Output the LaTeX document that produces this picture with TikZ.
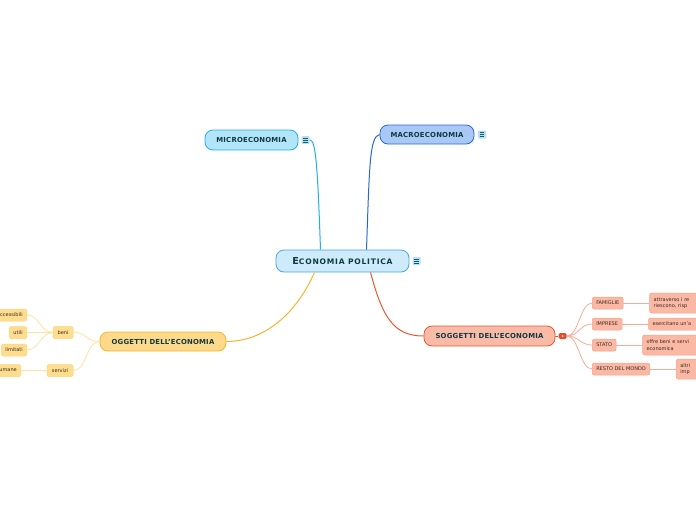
\documentclass[tikz,border=0pt]{standalone}
\usepackage{fontspec}
\setmainfont{DejaVu Sans}
\usetikzlibrary{positioning}
\definecolor{titolo}{HTML}{0E3A40}
\definecolor{testo}{HTML}{3A2A20}
\definecolor{centrofill}{HTML}{CDEBFB}
\definecolor{centrobd}{HTML}{4AA6DC}
\definecolor{microfill}{HTML}{B3E5FA}
\definecolor{microbd}{HTML}{22AEEB}
\definecolor{macrofill}{HTML}{A9C8F6}
\definecolor{macrobd}{HTML}{2868D2}
\definecolor{oggfill}{HTML}{FFD98A}
\definecolor{oggbd}{HTML}{F5B42C}
\definecolor{soggfill}{HTML}{F9BBA7}
\definecolor{soggbd}{HTML}{E8572F}
\definecolor{gialloch}{HTML}{FFDD8E}
\definecolor{giallobd}{HTML}{FFD27A}
\definecolor{gialloln}{HTML}{FFE3A0}
\definecolor{salmonech}{HTML}{FBB9A5}
\definecolor{salmonebd}{HTML}{F6A088}
\definecolor{salmoneln}{HTML}{F8AC95}
\definecolor{iconabg}{HTML}{B9DDF5}

\tikzset{
  base/.style={rounded corners=8pt,line width=0.8pt,inner sep=0pt,
    font=\bfseries\fontsize{6.9}{7}\selectfont\addfontfeatures{LetterSpace=3},
    text=titolo,minimum height=20pt},
  ramo/.style={line width=1pt},
  foglia/.style={rounded corners=2pt,line width=0.5pt,inner xsep=4pt,inner ysep=0pt,
    font=\fontsize{5}{6.5}\selectfont,text=testo,minimum height=12pt},
  giallo/.style={foglia,fill=gialloch,draw=giallobd},
  salmone/.style={foglia,fill=salmonech,draw=salmonebd},
  nota/.style={salmone,align=left,text width=60pt,anchor=west},
  icona/.style={fill=iconabg,rounded corners=1pt,minimum width=8pt,minimum height=8pt,
    inner sep=0pt,path picture={
      \foreach \k in {-1.8,0,1.8}
        \draw[titolo!80!cyan,line width=0.55pt]
          ([xshift=-2.2pt,yshift=\k pt]path picture bounding box.center) -- ++(4.4pt,0);}},
}

\begin{document}
\begin{tikzpicture}[x=1pt,y=-1pt]
  \useasboundingbox (0,0) rectangle (696,520);
  \clip (0,0) rectangle (696,520);

  % nodi principali
  \node[base,fill=centrofill,draw=centrobd,minimum width=133pt,minimum height=22pt,
    font=\bfseries\fontsize{7.6}{8}\selectfont\addfontfeatures{LetterSpace=10}]
    (eco) at (342.5,261) {{\fontsize{9.6}{9}\selectfont E}CONOMIA POLITICA};
  \node[icona,right=3pt of eco] (ecoi) {};
  \node[base,fill=microfill,draw=microbd,minimum width=93pt] (micro) at (251.5,140) {MICROECONOMIA};
  \node[icona,right=3pt of micro] (microi) {};
  \node[base,fill=macrofill,draw=macrobd,minimum width=94pt,minimum height=19pt]
    (macro) at (427,134.5) {MACROECONOMIA};
  \node[icona,right=3.5pt of macro] (macroi) {};
  \node[base,fill=oggfill,draw=oggbd,minimum width=126pt,minimum height=19pt]
    (ogg) at (163,341.5) {OGGETTI DELL'ECONOMIA};
  \node[base,fill=soggfill,draw=soggbd,minimum width=131pt] (sogg) at (489.5,336) {SOGGETTI DELL'ECONOMIA};
  \node[fill=soggbd!85!red,rounded corners=1.5pt,minimum width=8pt,minimum height=6pt,
    inner sep=0pt,right=3pt of sogg] (segno) {};
  \fill[white] (segno.center) circle (0.9pt);

  % rami principali
  \draw[ramo,microbd] ([xshift=-22pt]eco.north) .. controls +(-3,-85) and +(6,0) .. (microi.east);
  \draw[ramo,macrobd] ([xshift=24pt]eco.north) .. controls +(3,-85) and +(-10,2) .. (macro.west);
  \draw[ramo,oggbd] ([xshift=-28pt]eco.south) .. controls +(-20,45) and +(35,0) .. (ogg.east);
  \draw[ramo,soggbd] ([xshift=28pt]eco.south) .. controls +(12,45) and +(-30,0) .. (sogg.west);
  \draw[line width=0.8pt,soggbd] (sogg.east) -- (segno.west);

  % oggetti
  \node[giallo,minimum width=20pt] (beni) at (63,332.5) {beni};
  \node[giallo,minimum width=26pt] (servizi) at (60,370.5) {servizi};
  \node[giallo,anchor=east] (accessibili) at (27,315) {accessibili};
  \node[giallo,anchor=east] (utili) at (27,332.5) {utili};
  \node[giallo,anchor=east] (limitati) at (27,350) {limitati};
  \node[giallo,anchor=east] (umane) at (21,370.5) {umane};
  \foreach \n in {beni,servizi}
    \draw[gialloln,line width=0.8pt] (ogg.west) .. controls +(-14,0) and +(14,0) .. (\n.east);
  \foreach \n in {accessibili,utili,limitati}
    \draw[gialloln,line width=0.8pt] (beni.west) .. controls +(-12,0) and +(12,0) .. (\n.east);
  \draw[gialloln,line width=0.8pt] (servizi) -- (umane);

  % soggetti
  \node[salmone,anchor=west] (famiglie) at (592,303) {FAMIGLIE};
  \node[salmone,anchor=west] (imprese) at (592,324) {IMPRESE};
  \node[salmone,anchor=west] (stato) at (592,345) {STATO};
  \node[salmone,anchor=west] (resto) at (592,369) {RESTO DEL MONDO};
  \foreach \n in {famiglie,imprese,stato,resto}
    \draw[salmoneln,line width=0.8pt] (segno.east) .. controls +(12,0) and +(-12,0) .. (\n.west);
  \node[nota,minimum height=20pt,right=26pt of famiglie] (famd) {attraverso i re\\riescono, risp};
  \node[nota,right=26pt of imprese] (impd) {esercitano un'a};
  \node[nota,minimum height=20pt,right=26pt of stato] (statod) {offre beni e servi\\economica};
  \node[nota,minimum height=20pt,right=26pt of resto] (restod) {altri\\imp};
  \draw[salmoneln,line width=0.8pt] (famiglie) -- (famd);
  \draw[salmoneln,line width=0.8pt] (imprese) -- (impd);
  \draw[salmoneln,line width=0.8pt] (stato) -- (statod);
  \draw[salmoneln,line width=0.8pt] (resto) -- (restod);
\end{tikzpicture}
\end{document}
